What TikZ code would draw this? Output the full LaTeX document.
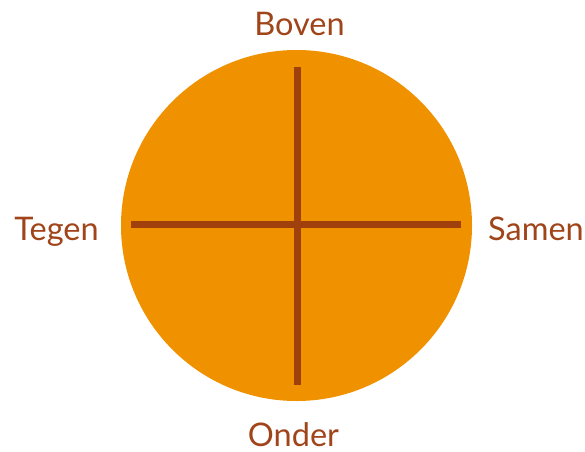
\documentclass[tikz,border=0pt]{standalone}
\usepackage{fontspec}
\setmainfont{Lato}
\usepackage{xcolor}
\usetikzlibrary{positioning,calc}

\definecolor{disk}{HTML}{F09200}
\definecolor{bar}{HTML}{A0410D}
\definecolor{lbl}{HTML}{A0441A}

\begin{document}
\begin{tikzpicture}[
    x=1pt, y=1pt,
    font=\fontsize{32.5}{38}\selectfont,
    axis/.style={draw=bar, line width=7pt},
    word/.style={text=lbl, anchor=base, inner sep=0pt}
  ]
    \useasboundingbox (0,0) rectangle (585,451);
    \node[circle, fill=disk, inner sep=0pt, minimum size=351pt] (disk) at (296.5,225.5) {};
    \coordinate (top) at (297.5,384);
    \coordinate (bot) at (297.5,66);
    \coordinate (lft) at (131,226.5);
    \coordinate (rgt) at (461,226.5);
    \draw[axis] (top) -- (bot);
    \draw[axis] (lft) -- (rgt);
    \node[word] (boven) at (299.5,415) {Boven};
    \node[word] (onder) at (293.5,5) {Onder};
    \node[word] (tegen) at (56.5,211) {Tegen};
    \node[word] (samen) at (536,211) {Samen};
  \end{tikzpicture}
\end{document}
